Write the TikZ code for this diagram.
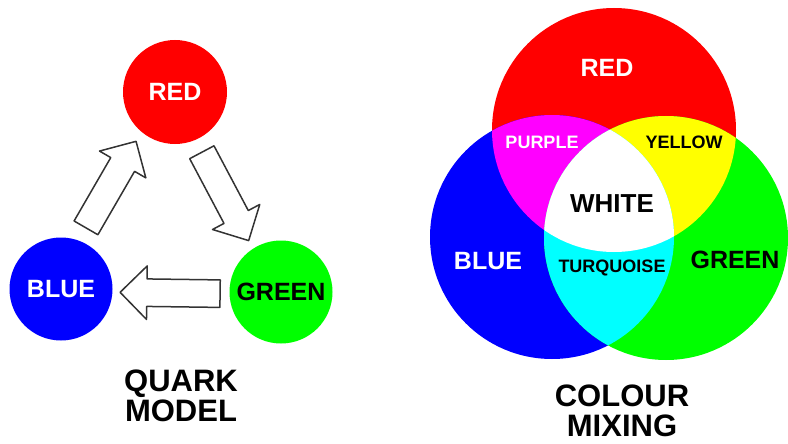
\documentclass[tikz,border=0pt]{standalone}
\usepackage{fontspec}
\setmainfont{Liberation Sans}
\usetikzlibrary{shapes.arrows}
\definecolor{qred}{RGB}{255,0,0}
\definecolor{qgreen}{RGB}{0,255,0}
\definecolor{qblue}{RGB}{0,0,255}
\definecolor{qmagenta}{RGB}{255,0,255}
\definecolor{qyellow}{RGB}{255,255,0}
\definecolor{qcyan}{RGB}{0,255,255}
\begin{document}
\begin{tikzpicture}[x=1pt, y=-1pt, line join=round]
	\tikzset{quark/.style={circle, inner sep=0pt, minimum size=103pt, font=\fontsize{25}{30}\selectfont\bfseries},
		flow/.style={single arrow, draw=black!80, line width=1.5pt, fill=white, minimum height=100pt, single arrow head extend=13pt, inner sep=0pt, sloped, allow upside down},
		big label/.style={font=\fontsize{25}{30}\selectfont\bfseries},
		mix label/.style={font=\fontsize{18}{22}\selectfont\bfseries},
		caption/.style={align=center, font=\fontsize{31}{30}\selectfont\bfseries}}
	\useasboundingbox (0,0) rectangle (788,444);
	% quark model
	\node[quark, fill=qred, text=white, minimum size=104pt] (red) at (175,92) {RED};
	\node[quark, fill=qblue, text=white] (blue) at (61,289) {BLUE};
	\node[quark, fill=qgreen] (green) at (281,292) {GREEN};
	\path (blue) -- (red) node[flow, midway, xshift=-5pt, yshift=9pt] {\rule{0pt}{26pt}};
	\path (red) -- (green) node[flow, midway, xshift=-4.5pt, yshift=-4.5pt] {\rule{0pt}{26pt}};
	\path (green) -- (blue) node[flow, midway, xshift=-6pt, yshift=2.5pt] {\rule{0pt}{26pt}};
	\node[caption] (quarkcap) at (181,396) {QUARK\\MODEL};
	% colour mixing
	\coordinate (vred) at (614,130);
	\coordinate (vblue) at (552,237);
	\coordinate (vgreen) at (666,238);
	\fill[qred] (vred) circle (122);
	\fill[qblue] (vblue) circle (122);
	\fill[qgreen] (vgreen) circle (122);
	\begin{scope}
		\clip (vred) circle (122);
		\fill[qmagenta] (vblue) circle (122);
		\fill[qyellow] (vgreen) circle (122);
	\end{scope}
	\begin{scope}
		\clip (vblue) circle (122);
		\fill[qcyan] (vgreen) circle (122);
		\clip (vred) circle (122);
		\fill[white] (vgreen) circle (122);
	\end{scope}
	\node[big label, text=white] (redtxt) at (607,68) {RED};
	\node[mix label, text=white] (purpletxt) at (542,142) {PURPLE};
	\node[mix label] (yellowtxt) at (684,142) {YELLOW};
	\node[big label, font=\fontsize{26}{30}\selectfont\bfseries] (whitetxt) at (612,204) {WHITE};
	\node[big label, text=white] (bluetxt) at (488,261) {BLUE};
	\node[mix label] (turqtxt) at (612,268) {TURQUOISE};
	\node[big label] (greentxt) at (735,260) {GREEN};
	\node[caption] (mixcap) at (622,411) {COLOUR\\MIXING};
\end{tikzpicture}
\end{document}
